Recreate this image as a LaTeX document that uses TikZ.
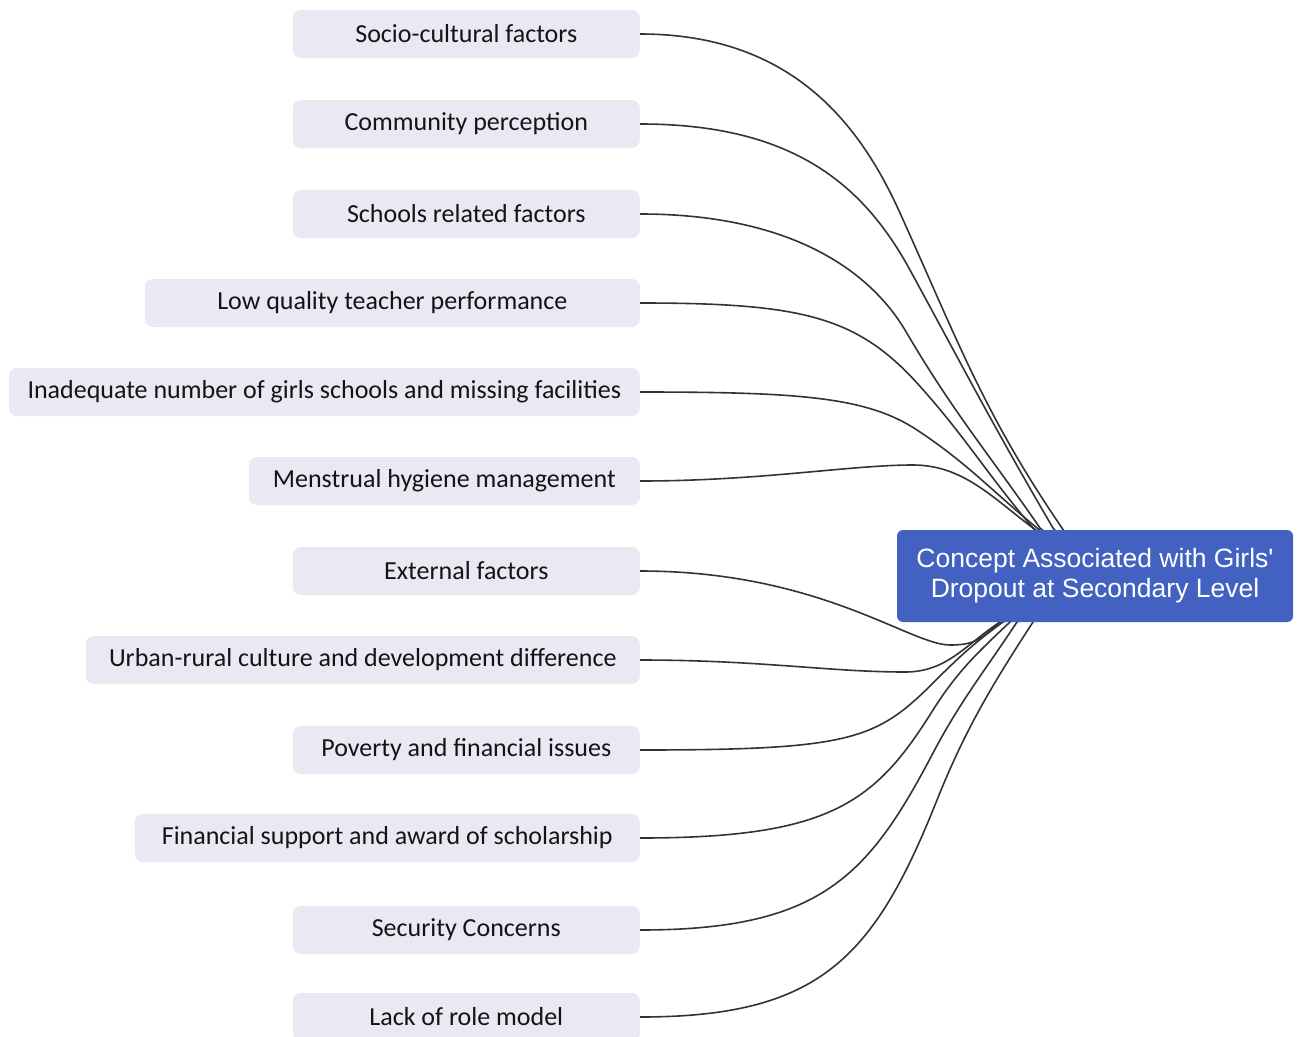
\documentclass[tikz,border=0pt]{standalone}
\usepackage{fontspec}
\setmainfont{Carlito}
\newfontfamily\conceptfont{Liberation Sans}
\usetikzlibrary{backgrounds}
\definecolor{factorfill}{RGB}{233,233,243}
\definecolor{conceptblue}{RGB}{67,97,193}
\definecolor{linkgray}{RGB}{51,51,51}
\definecolor{labelink}{RGB}{20,20,20}
\tikzset{
  factor/.style={fill=factorfill, rounded corners=8pt, minimum height=48pt,
    anchor=east, inner sep=0pt, text=labelink, font=\fontsize{26}{30}\selectfont},
  concept/.style={fill=conceptblue, rounded corners=6pt, minimum width=396pt,
    minimum height=92pt, inner sep=0pt, text=white, align=center,
    font=\conceptfont\fontsize{26.5}{30}\selectfont},
  link/.style={draw=linkgray, line width=1.6pt}
}
\begin{document}
\begin{tikzpicture}[x=1pt,y=-1pt]
\useasboundingbox (0,0) rectangle (1300,1036);

% central concept
\node[concept] (root) at (1095,576) {Concept Associated with Girls'\\Dropout at Secondary Level};

% contributing factors
\node[factor, minimum width=347pt] (f1)  at (640,34)   {Socio-cultural factors};
\node[factor, minimum width=347pt] (f2)  at (640,124)  {Community perception};
\node[factor, minimum width=347pt] (f3)  at (640,214)  {Schools related factors};
\node[factor, minimum width=495pt] (f4)  at (640,303)  {Low quality teacher performance};
\node[factor, minimum width=631pt] (f5)  at (640,392)  {Inadequate number of girls schools and missing facilities};
\node[factor, minimum width=391pt] (f6)  at (640,481)  {Menstrual hygiene management};
\node[factor, minimum width=347pt] (f7)  at (640,571)  {External factors};
\node[factor, minimum width=554pt] (f8)  at (640,660)  {Urban-rural culture and development difference};
\node[factor, minimum width=347pt] (f9)  at (640,750)  {Poverty and financial issues};
\node[factor, minimum width=505pt] (f10) at (640,838)  {Financial support and award of scholarship};
\node[factor, minimum width=347pt] (f11) at (640,930)  {Security Concerns};
\node[factor, minimum width=347pt] (f12) at (640,1017) {Lack of role model};

% connectors, drawn beneath the concept box
\begin{pgfonlayer}{background}
\draw[link] (f1.east) .. controls (790,34) and (859,122) .. (900,213)
  .. controls (957,339) and (984,414) .. (1062,528) -- (root.center);
\draw[link] (f2.east) .. controls (790,124) and (862,182) .. (910,270)
  .. controls (965,371) and (995,429) .. (1053,528) -- (root.center);
\draw[link] (f3.east) .. controls (790,214) and (869,270) .. (905,330)
  .. controls (953,412) and (986,450) .. (1040,528) -- (root.center);
\draw[link] (f4.east) .. controls (800,303) and (856,316) .. (917,383)
  .. controls (965,436) and (986,473) .. (1033,528) -- (root.center);
\draw[link] (f5.east) .. controls (800,392) and (867,397) .. (917,430)
  .. controls (967,463) and (991,490) .. (1037,528) -- (root.center);
\draw[link] (f6.east) .. controls (760,481) and (850,465) .. (913,465)
  .. controls (963,465) and (993,498) .. (1033,528) -- (root.center);
\draw[link] (f7.east) .. controls (820,571) and (910,645) .. (950,645)
  .. controls (975,645) and (981,639) .. (1000,622) -- (root.center);
\draw[link] (f8.east) .. controls (760,660) and (830,672) .. (905,672)
  .. controls (947,672) and (965,645) .. (1000,622) -- (root.center);
\draw[link] (f9.east) .. controls (850,750) and (876,740) .. (933,683)
  .. controls (958,658) and (974,643) .. (1003,622) -- (root.center);
\draw[link] (f10.east) .. controls (830,838) and (875,803) .. (933,710)
  .. controls (957,672) and (977,653) .. (1010,622) -- (root.center);
\draw[link] (f11.east) .. controls (820,930) and (868,877) .. (933,753)
  .. controls (961,700) and (984,672) .. (1017,622) -- (root.center);
\draw[link] (f12.east) .. controls (820,1017) and (874,958) .. (937,800)
  .. controls (965,730) and (992,685) .. (1033,622) -- (root.center);
\end{pgfonlayer}
\end{tikzpicture}
\end{document}
